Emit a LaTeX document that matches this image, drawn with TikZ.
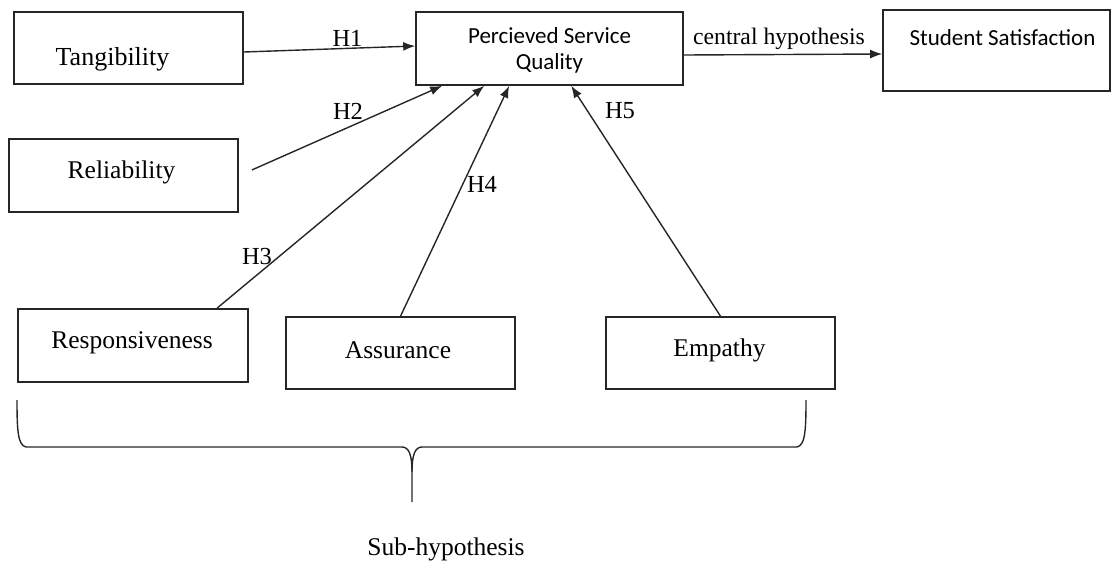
\documentclass[tikz,border=0pt]{standalone}
\usepackage{fontspec}
\setmainfont{Liberation Serif}
\newfontfamily\calfont{Carlito}
\usetikzlibrary{arrows.meta}
\begin{document}
\begin{tikzpicture}[x=1pt,y=-1pt,
  box/.style 2 args={draw=black!85, line width=1.6pt, minimum width=#1,
    minimum height=#2, inner sep=0pt},
  boxtext/.style={font=\fontsize{25.5}{30}\selectfont, anchor=base, inner sep=0pt},
  caltext/.style={font=\calfont\fontsize{23}{26}\selectfont, inner sep=0pt},
  hyp/.style={font=\fontsize{24.5}{28}\selectfont, anchor=base, inner sep=0pt},
  link/.style={draw=black!85, line width=1.4pt, -{Latex[length=12pt,width=9pt]}},
  brace/.style={draw=black!85, line width=1.4pt}]

\useasboundingbox (0,0) rectangle (1117,563);

% the five service-quality dimensions
\node[box={229pt}{72pt},
  label={[boxtext,font=\fontsize{26}{30}\selectfont,xshift=-16pt,yshift=-11pt]center:Tangibility}]
  (tang) at (128.5,48) {};
\node[box={229pt}{73pt},
  label={[boxtext,xshift=-2pt,yshift=3.5pt]center:Reliability}]
  (rel) at (123.5,175.5) {};
\node[box={230pt}{73pt},
  label={[boxtext,xshift=-1pt,yshift=2.5pt]center:Responsiveness}]
  (resp) at (133,345.5) {};
\node[box={229pt}{72pt},
  label={[boxtext,xshift=-2.5pt,yshift=2.5pt]center:Assurance}]
  (assur) at (400.5,353) {};
\node[box={229pt}{72pt},
  label={[boxtext,xshift=-1pt,yshift=3pt]center:Empathy}]
  (emp) at (720.5,353) {};

% mediator and outcome
\node[box={267pt}{73pt},
  label={[caltext,align=center,yshift=-2pt]center:Percieved Service\\Quality}]
  (psq) at (549.5,48.5) {};
\node[box={227pt}{81pt},
  label={[caltext,anchor=base,xshift=6pt,yshift=12.5pt]center:Student Satisfaction}]
  (ss) at (996.5,50.5) {};

% hypothesised paths
\draw[link] ([yshift=-4pt]tang.east) -- ([yshift=2.5pt]psq.west);
\draw[link] ([xshift=13pt,yshift=5.5pt]rel.east) -- ([xshift=27pt]psq.south west);
\draw[link] ([xshift=84pt]resp.north) -- ([xshift=69pt]psq.south west);
\draw[link] (assur.north) -- ([xshift=94pt]psq.south west);
\draw[link] (emp.north) -- ([xshift=156pt]psq.south west);
\draw[link] ([yshift=-6.5pt]psq.east) -- ([yshift=-3.5pt]ss.west);

% path labels
\node[hyp] (h1) at (347.5,46) {H1};
\node[hyp] (h2) at (348,119) {H2};
\node[hyp] (h3) at (257,264) {H3};
\node[hyp] (h4) at (482,192) {H4};
\node[hyp] (h5) at (620,118) {H5};
\node[hyp,font=\fontsize{23.7}{28}\selectfont] (central) at (779,44) {central hypothesis};

% brace grouping the dimensions
\draw[brace] (17,400) .. controls (17,432) and (18,445) .. (26,447) -- (402,447)
  .. controls (409,447) and (412,455) .. (412,472) -- (412,502);
\draw[brace] (412,472) .. controls (412,455) and (415,447) .. (422,447) -- (797,447)
  .. controls (805,445) and (806,432) .. (806,400);
\node[hyp,font=\fontsize{25.5}{30}\selectfont] (sub) at (446,555) {Sub-hypothesis};
\end{tikzpicture}
\end{document}
